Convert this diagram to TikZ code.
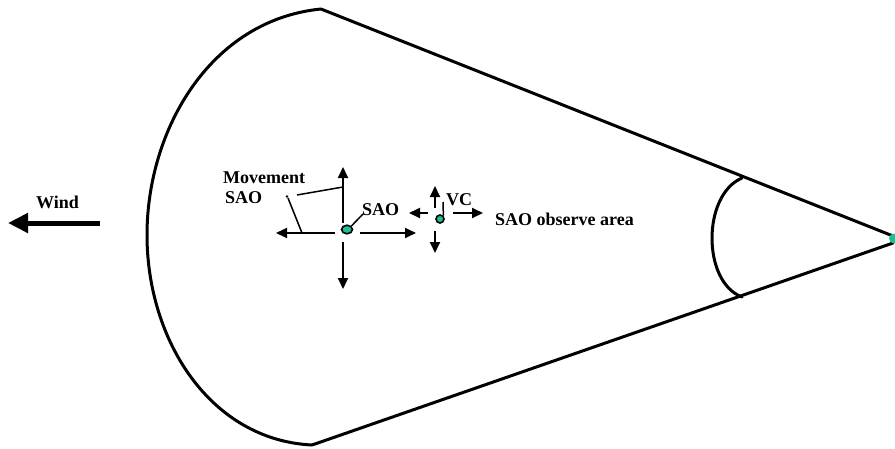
\documentclass[tikz,border=0pt]{standalone}
\usepackage{fontspec}
\setmainfont{Liberation Serif}
\usetikzlibrary{arrows.meta,shapes.geometric}
\definecolor{dotgreen}{RGB}{30,190,150}
\tikzset{
  outline/.style={line width=3pt, line join=round, line cap=round},
  lbl/.style={inner sep=0pt, anchor=base west, font=\fontsize{18}{21}\selectfont\bfseries},
  arr/.style={line width=1.8pt, -{Triangle[length=11pt,width=10pt]}},
  lead/.style={line width=1.5pt},
  gdot/.style={fill=dotgreen, draw=black, line width=1.6pt},
}
\begin{document}
\begin{tikzpicture}[x=1pt,y=-1pt]
\useasboundingbox (0,0) rectangle (895,448);
% outer fan shape
\coordinate (top) at (321,9);
\coordinate (bot) at (312,445);
\coordinate (left) at (147,235);
\coordinate (tipu) at (893,236);
\coordinate (tipl) at (893,243);
\draw[outline] (tipu) -- (top) .. controls (210,20) and (147,130) .. (left)
  .. controls (147,340) and (210,440) .. (bot) -- (tipl);
% inner arc
\coordinate (iu) at (742,178);
\coordinate (il) at (742,297);
\draw[outline] (iu) .. controls (702,195) and (702,282) .. (il);
% tip dot
\fill[dotgreen] (894,238.5) circle (5);
% wind
\node[lbl] (wind) at (36,208) {Wind};
\coordinate (w1) at (100,223);
\coordinate (w2) at (8,223);
\draw[line width=5pt, -{Triangle[length=20pt,width=19pt]}] (w1) -- (w2);
% big SAO cross
\coordinate (c1u) at (343,223); \coordinate (c1ut) at (343,167);
\coordinate (c1d) at (343,242); \coordinate (c1dt) at (343,289);
\coordinate (c1l) at (335,233); \coordinate (c1lt) at (276,233);
\coordinate (c1r) at (360,233); \coordinate (c1rt) at (416,233);
\draw[arr] (c1u) -- (c1ut);
\draw[arr] (c1d) -- (c1dt);
\draw[arr] (c1l) -- (c1lt);
\draw[arr] (c1r) -- (c1rt);
\node[gdot, ellipse, minimum width=11pt, minimum height=8.5pt, inner sep=0pt] (sao) at (347,229.5) {};
\node[lbl] (saolbl) at (362,215) {SAO};
\draw[lead] (sao.north east) -- (363,214);
% movement label
\node[lbl] (mov) at (223,183) {Movement};
\node[lbl] (movsao) at (225,203) {SAO};
\coordinate (m0) at (288,198);
\coordinate (m1) at (297,195);
\coordinate (m2) at (343,187);
\coordinate (m3) at (302,233);
\draw[lead] (m1) -- (m2);
\draw[lead] (m0) -- (m3);
\fill (287,196.5) circle (1.4);
% VC cross
\coordinate (v1u) at (435,208); \coordinate (v1ut) at (435,186);
\coordinate (v1d) at (435,231); \coordinate (v1dt) at (435,253);
\coordinate (v1l) at (428,213); \coordinate (v1lt) at (409,213);
\coordinate (v1r) at (453,213); \coordinate (v1rt) at (483,213);
\draw[arr] (v1u) -- (v1ut);
\draw[arr] (v1d) -- (v1dt);
\draw[arr] (v1l) -- (v1lt);
\draw[arr] (v1r) -- (v1rt);
\node[gdot, circle, minimum size=8pt, inner sep=0pt] (vc) at (440,219) {};
\node[lbl] (vclbl) at (446,205) {VC};
\draw[lead] (vc.north east) -- (443,202);
\node[lbl] (area) at (495,225) {SAO observe area};
\end{tikzpicture}
\end{document}
